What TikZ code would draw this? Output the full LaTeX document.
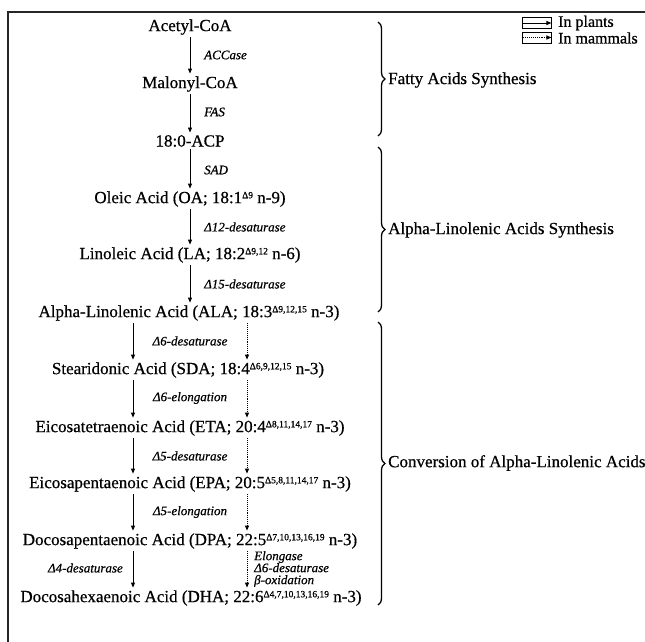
\documentclass[tikz,border=0pt]{standalone}
\usepackage{fontspec}
\setmainfont{Liberation Serif}[FakeBold=0.6]
\usetikzlibrary{arrows.meta,decorations.pathreplacing,calc}
\newcommand{\mysup}[1]{\raisebox{0.62ex}{\fontsize{9.5}{10}\selectfont #1}}
\begin{document}
\begin{tikzpicture}[x=1pt,y=-1pt,
  row/.style={font=\fontsize{17}{19}\selectfont, inner sep=2.5pt},
  enz/.style={font=\fontsize{13}{14}\selectfont\itshape, inner sep=1pt},
  arr/.style={-{Triangle[length=5pt,width=4pt]}, line width=0.9pt},
  darr/.style={arr, densely dotted},
  brc/.style={decorate, decoration={brace, amplitude=7pt, aspect=0.5}, line width=1.3pt},
  lab/.style={font=\fontsize{17}{19}\selectfont, anchor=west, inner sep=0pt},
  leglab/.style={font=\fontsize{16}{17}\selectfont, anchor=west, inner sep=0pt},
  legbox/.style={draw, line width=0.9pt, minimum width=29pt, minimum height=11pt, inner sep=0pt}]
\useasboundingbox (0,0) rectangle (645,641);
\fill[white] (0,0) rectangle (645,641);
% frame
\draw[line width=1.3pt, black!85] (8,645) -- (8,12) -- (650,12);

% rows
\node[row] (acc) at (190,27) {Acetyl-CoA};
\node[row] (mal) at (190,84) {Malonyl-CoA};
\node[row] (acp) at (190,141) {18:0-ACP};
\node[row] (oa) at (190,199) {Oleic Acid (OA; 18:1\mysup{Δ9} n-9)};
\node[row] (la) at (190,255) {Linoleic Acid (LA; 18:2\mysup{Δ9,12} n-6)};
\node[row] (ala) at (189,313) {Alpha-Linolenic Acid (ALA; 18:3\mysup{Δ9,12,15} n-3)};
\node[row] (sda) at (188,370) {Stearidonic Acid (SDA; 18:4\mysup{Δ6,9,12,15} n-3)};
\node[row] (eta) at (190,428) {Eicosatetraenoic Acid (ETA; 20:4\mysup{Δ8,11,14,17} n-3)};
\node[row] (epa) at (190,484) {Eicosapentaenoic Acid (EPA; 20:5\mysup{Δ5,8,11,14,17} n-3)};
\node[row] (dpa) at (190,541) {Docosapentaenoic Acid (DPA; 22:5\mysup{Δ7,10,13,16,19} n-3)};
\node[row] (dha) at (191,598) {Docosahexaenoic Acid (DHA; 22:6\mysup{Δ4,7,10,13,16,19} n-3)};

% upper arrows
\coordinate (ux) at (190,0);
\draw[arr] (acc.south -| ux) -- (mal.north -| ux);
\draw[arr] (mal.south -| ux) -- (acp.north -| ux);
\draw[arr] (acp.south -| ux) -- (oa.north -| ux);
\draw[arr] (oa.south -| ux) -- (la.north -| ux);
\draw[arr] (la.south -| ux) -- (ala.north -| ux);
\node[enz, anchor=west] (e1) at (203,55) {ACCase};
\node[enz, anchor=west] (e2) at (203,112) {FAS};
\node[enz, anchor=west] (e3) at (203,170) {SAD};
\node[enz, anchor=west] (e4) at (203,227) {Δ12-desaturase};
\node[enz, anchor=west] (e5) at (203,284) {Δ15-desaturase};

% lower arrows
\coordinate (sx) at (133,0);
\coordinate (dx) at (247,0);
\foreach \a/\b in {ala/sda, sda/eta, eta/epa, epa/dpa, dpa/dha}{
  \draw[arr] (\a.south -| sx) -- (\b.north -| sx);
  \draw[darr] (\a.south -| dx) -- (\b.north -| dx);
}
\node[enz] (e6) at (190,341) {Δ6-desaturase};
\node[enz] (e7) at (190,398) {Δ6-elongation};
\node[enz] (e8) at (190,456) {Δ5-desaturase};
\node[enz] (e9) at (190,512) {Δ5-elongation};
\node[enz, anchor=east] (e10) at (124,568) {Δ4-desaturase};
\node[enz, anchor=west, align=left, font=\fontsize{13}{12}\selectfont\itshape] (e11) at (253,569) {Elongase\\Δ6-desaturase\\β-oxidation};

% braces
\draw[brc] (378,22) -- (378,136);
\draw[brc] (378,147) -- (378,312);
\draw[brc] (378,322) -- (378,605);
\node[lab] (b1) at (388,80) {Fatty Acids Synthesis};
\node[lab] (b2) at (388,230) {Alpha-Linolenic Acids Synthesis};
\node[lab] (b3) at (388,463) {Conversion of Alpha-Linolenic Acids};

% legend
\node[legbox] (lg1) at (536.5,23) {};
\node[legbox] (lg2) at (536.5,37.5) {};
\draw[arr] (lg1.west) -- (lg1.east);
\draw[darr] (lg2.west) -- (lg2.east);
\node[leglab] (l1) at (558,23) {In plants};
\node[leglab] (l2) at (558,38) {In mammals};
\end{tikzpicture}
\end{document}
